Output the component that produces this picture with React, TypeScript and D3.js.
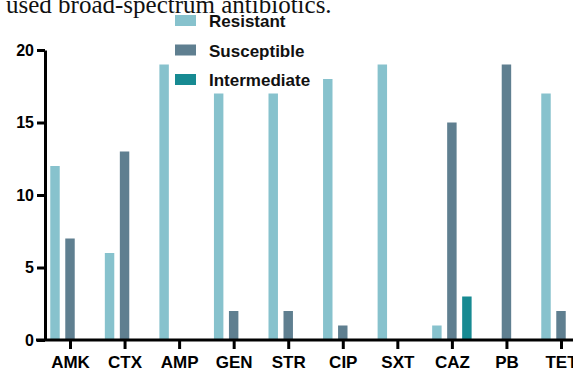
import { useEffect, useRef } from "react";
import * as d3 from "d3";

const categories = ["AMK", "CTX", "AMP", "GEN", "STR", "CIP", "SXT", "CAZ", "PB", "TET"];
const seriesNames = ["Resistant", "Susceptible", "Intermediate"];
const resistant = [12, 6, 19, 17, 17, 18, 19, 1, 0, 17];
const susceptible = [7, 13, 0, 2, 2, 1, 0, 15, 19, 2];
const intermediate = [0, 0, 0, 0, 0, 0, 0, 3, 0, 0];
const yTicks = [0, 5, 10, 15, 20];
const colors = ["#87C2CD", "#5F7F90", "#178A92"];

export default function App() {
  const svgRef = useRef<SVGSVGElement>(null);

  useEffect(() => {
    if (!svgRef.current) return;
    const svg = d3.select(svgRef.current);
    svg.selectAll("*").remove();

    const font = "'Liberation Sans', Arial, sans-serif";
    const values = [resistant, susceptible, intermediate];

    const x = d3.scalePoint<string>().domain(categories).range([70, 561]);
    const inner = d3
      .scaleBand<string>()
      .domain(seriesNames)
      .range([-22.5, 22.5])
      .paddingInner(0.37)
      .paddingOuter(0.185);
    const y = d3.scaleLinear().domain([0, 20]).range([340, 50]);

    // caption fragment cut at top
    svg
      .append("text")
      .attr("x", 6)
      .attr("y", 13)
      .attr("font-family", "'Liberation Serif', 'Times New Roman', serif")
      .attr("font-size", 25)
      .attr("fill", "#111")
      .text("used broad-spectrum antibiotics.");

    // bars
    values.forEach((vals, si) => {
      svg
        .append("g")
        .selectAll("rect")
        .data(vals.map((v, i) => ({ v, c: categories[i] })))
        .enter()
        .filter((d) => d.v > 0)
        .append("rect")
        .attr("x", (d) => (x(d.c) ?? 0) + (inner(seriesNames[si]) ?? 0))
        .attr("y", (d) => y(d.v))
        .attr("width", inner.bandwidth())
        .attr("height", (d) => y(0) - y(d.v))
        .attr("fill", colors[si]);
    });

    // y axis
    const yAxis = svg
      .append("g")
      .attr("transform", "translate(45,0)")
      .call(d3.axisLeft(y).tickValues(yTicks).tickSize(8).tickPadding(3).tickSizeOuter(0));
    yAxis.select(".domain").attr("stroke-width", 3).attr("stroke", "#000");
    yAxis.selectAll(".tick line").attr("stroke-width", 3).attr("stroke", "#000");
    yAxis
      .selectAll(".tick text")
      .attr("font-family", font)
      .attr("font-weight", "bold")
      .attr("font-size", 16)
      .attr("fill", "#000");

    // x axis
    const xAxis = svg
      .append("g")
      .attr("transform", "translate(0,340)")
      .call(d3.axisBottom(x).tickSize(9).tickPadding(7).tickSizeOuter(0));
    xAxis
      .select(".domain")
      .attr("d", "M36,0H573")
      .attr("stroke-width", 3)
      .attr("stroke", "#000");
    xAxis.selectAll(".tick line").attr("stroke-width", 3).attr("stroke", "#000");
    xAxis
      .selectAll(".tick text")
      .attr("font-family", font)
      .attr("font-weight", "bold")
      .attr("font-size", 17)
      .attr("fill", "#000");

    // legend
    const legend = svg
      .append("g")
      .selectAll("g")
      .data(seriesNames)
      .enter()
      .append("g")
      .attr("transform", (_, i) => `translate(175,${15 + i * 29.5})`);
    legend
      .append("rect")
      .attr("width", 21)
      .attr("height", 11)
      .attr("fill", (_, i) => colors[i]);
    legend
      .append("text")
      .attr("x", 34)
      .attr("y", 12)
      .attr("font-family", font)
      .attr("font-weight", "bold")
      .attr("font-size", 17)
      .attr("fill", "#111")
      .text((d) => d);
  }, []);

  return (
    <svg
      ref={svgRef}
      width={573}
      height={373}
      style={{ position: "absolute", left: 0, top: 0, background: "#fff" }}
    />
  );
}
